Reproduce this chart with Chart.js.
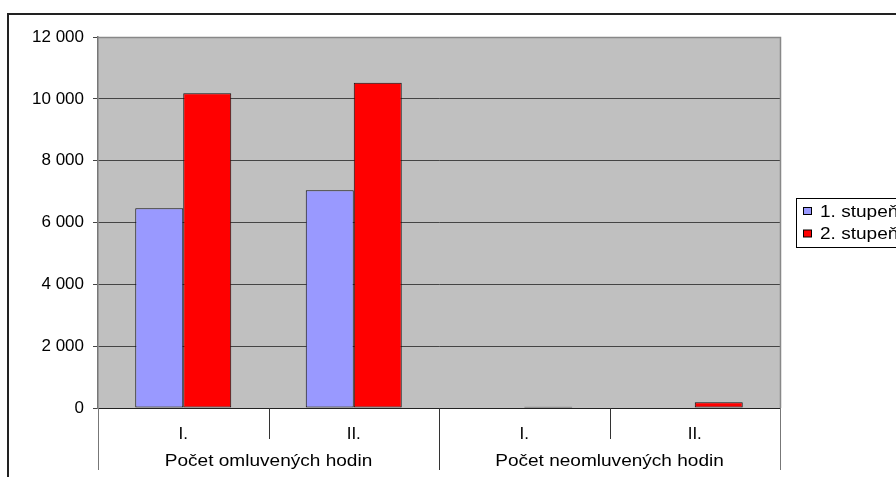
<!DOCTYPE html>
<html lang="cs">
<head>
    <meta charset="UTF-8">
    <title>Počet hodin</title>
    <script src="https://cdnjs.cloudflare.com/ajax/libs/Chart.js/4.4.1/chart.umd.min.js"></script>
    <style>
        html, body { margin: 0; padding: 0; background: #fff; overflow: hidden; }
        #myChart { display: block; }
    </style>
</head>
<body>
<canvas id="myChart" width="896" height="477"></canvas>

<script>
    // data
    var categories = ["I.", "II.", "I.", "II."];
    var groups = ["Počet omluvených hodin", "Počet neomluvených hodin"];
    var groupSize = 2;
    var seriesNames = ["1. stupeň", "2. stupeň"];
    var stupen1 = [6460, 7040, 0, 0];
    var stupen2 = [10180, 10520, 40, 190];
    var yTicks = [0, 2000, 4000, 6000, 8000, 10000, 12000];
    var colors = ["#9999FF", "#FF0000"];

    var fontName = "'Liberation Sans', Arial, sans-serif";
    var fontSize = 17;
    var stretch = 1.12; // the original text is a little wider than Arial

    function spaced(v) {
      return String(v).replace(/\B(?=(\d{3})+(?!\d))/g, " ");
    }

    function wideText(c, txt, x, y) {
      c.save();
      c.translate(x, y);
      c.scale(stretch, 1);
      c.fillText(txt, 0, 0);
      c.restore();
    }

    // background, outer frame, plot area frame
    var frame = {
      id: 'frame',
      beforeDraw: function(chart) {
        var c = chart.ctx, a = chart.chartArea;
        c.save();
        c.fillStyle = "#C0C0C0";
        c.fillRect(a.left, a.top, a.right - a.left, a.bottom - a.top);
        c.strokeStyle = "#222";
        c.lineWidth = 2;
        c.strokeRect(8, 14, 1200, 1200);
        c.restore();
      },
      afterDatasetsDraw: function(chart) {
        var c = chart.ctx, a = chart.chartArea;
        c.save();
        c.strokeStyle = "#888";
        c.lineWidth = 1.5;
        c.beginPath();
        c.moveTo(a.left, a.top + 0.5);
        c.lineTo(a.right + 0.5, a.top + 0.5);
        c.lineTo(a.right + 0.5, a.bottom);
        c.stroke();
        c.restore();
      }
    };

    // category dividers, group labels and legend
    var groupAxis = {
      id: 'groupAxis',
      afterDraw: function(chart) {
        var c = chart.ctx, a = chart.chartArea, x = chart.scales.x;
        var n = categories.length;
        var step = x.getPixelForValue(1) - x.getPixelForValue(0);
        c.save();
        c.lineWidth = 1;
        for (var i = 0; i <= n; i++) {
          var px = Math.round(x.getPixelForValue(0) - step / 2 + i * step) + 0.5;
          var isGroup = i % groupSize === 0;
          c.strokeStyle = (i === 0 || i === n) ? "#777" : "#333";
          c.beginPath();
          c.moveTo(px, a.bottom);
          c.lineTo(px, a.bottom + (isGroup ? 62 : 31));
          c.stroke();
        }
        c.fillStyle = "#000";
        c.font = fontSize + "px " + fontName;
        c.textAlign = "center";
        c.textBaseline = "middle";
        for (var g = 0; g < groups.length; g++) {
          var cx = (x.getPixelForValue(g * groupSize) + x.getPixelForValue(g * groupSize + groupSize - 1)) / 2;
          wideText(c, groups[g], cx, a.bottom + 53);
        }

        // legend, cut by the right edge like the original
        c.fillStyle = "#fff";
        c.fillRect(796, 198, 200, 49);
        c.strokeStyle = "#000";
        c.strokeRect(796.5, 198.5, 200, 49);
        c.textAlign = "left";
        chart.data.datasets.forEach(function(ds, k) {
          var yy = 211 + k * 22.5;
          c.fillStyle = ds.backgroundColor;
          c.fillRect(803.5, yy - 3.5, 8, 7);
          c.strokeStyle = "#000";
          c.strokeRect(803.5, yy - 3.5, 8, 7);
          c.fillStyle = "#000";
          wideText(c, ds.label, 820, yy + 1);
        });
        c.restore();
      }
    };

    var ctx = document.getElementById('myChart').getContext('2d');

    var myChart = new Chart(ctx, {
      type: 'bar',
      data: {
        labels: categories,
        datasets: [{
          label: seriesNames[0],
          data: stupen1,
          backgroundColor: colors[0],
          borderColor: "#111",
          borderWidth: 1,
          borderSkipped: false
        }, {
          label: seriesNames[1],
          data: stupen2,
          backgroundColor: colors[1],
          borderColor: "#111",
          borderWidth: 1,
          borderSkipped: false
        }]
      },
      options: {
        responsive: false,
        animation: false,
        events: [],
        layout: { padding: { top: 37, right: 116, left: 0, bottom: 0 } },
        datasets: { bar: { categoryPercentage: 0.563, barPercentage: 1 } },
        plugins: {
          legend: { display: false },
          tooltip: { enabled: false }
        },
        scales: {
          x: {
            grid: { display: false },
            border: { display: true, color: "#222", width: 1 },
            ticks: {
              color: "#000",
              font: { family: fontName, size: fontSize },
              padding: 8,
              maxRotation: 0
            },
            afterFit: function(scale) { scale.height = 69; }
          },
          y: {
            min: 0,
            max: yTicks[yTicks.length - 1],
            afterBuildTicks: function(scale) {
              scale.ticks = yTicks.map(function(v) { return { value: v }; });
            },
            grid: { color: "#444", lineWidth: 1, tickLength: 5, tickColor: "#444" },
            border: { display: true, color: "#777", width: 1.5 },
            ticks: {
              color: "#000",
              font: { family: fontName, size: fontSize },
              padding: 9,
              callback: function(v) { return spaced(v); }
            },
            afterFit: function(scale) { scale.width = 98; }
          }
        }
      },
      plugins: [frame, groupAxis]
    });
</script>
</body>
</html>
